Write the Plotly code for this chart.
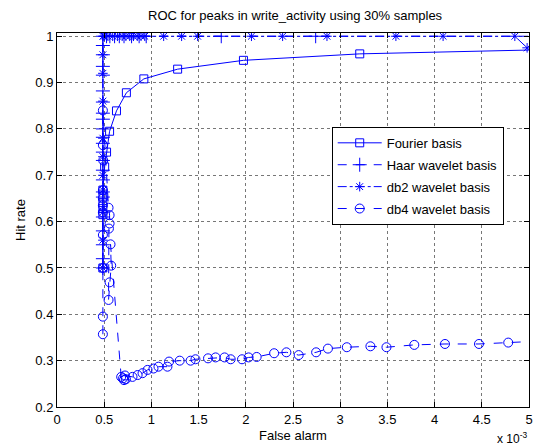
import plotly.graph_objects as go

# False alarm values are in units of 1e-3; hit rate as a fraction.
fourier_fa = [0.486, 0.486, 0.486, 0.486, 0.486, 0.486, 0.505, 0.525, 0.557, 0.63, 0.735, 0.92, 1.278, 1.975, 3.207, 5.6]
fourier_hr = [0.50, 0.615, 0.628, 0.641, 0.655, 0.668, 0.718, 0.75, 0.795, 0.839, 0.878, 0.908, 0.929, 0.948, 0.962, 0.973]

haar_fa = [0.486, 0.486, 0.486, 0.486, 0.486, 0.486, 0.486, 0.486, 0.486, 0.486, 0.486, 0.486,
           0.486, 0.486, 0.486, 0.486, 0.486, 0.486, 0.486, 0.486, 0.486, 0.486, 0.486,
           0.525, 0.56, 0.61, 0.66, 0.71, 0.79, 0.87, 0.945, 1.74, 2.74, 5.5]
haar_hr = [0.50, 0.52, 0.55, 0.58, 0.61, 0.653, 0.664, 0.69, 0.711, 0.732, 0.75, 0.769,
           0.782, 0.80, 0.821, 0.834, 0.858, 0.882, 0.916, 0.935, 0.96, 0.98, 1.0,
           1.0, 1.0, 1.0, 1.0, 1.0, 1.0, 1.0, 1.0, 1.0, 1.0, 1.0]

db2_fa = [0.486, 0.486, 0.486, 0.486, 0.486, 0.486, 0.486, 0.486, 0.486, 0.486, 0.486,
          0.50, 0.54, 0.59, 0.64, 0.69, 0.73, 0.77, 0.81, 0.85, 0.89, 0.93, 1.13, 1.32, 1.49,
          2.06, 2.39, 2.86, 3.59, 4.09, 4.85, 4.98]
db2_hr = [0.50, 0.56, 0.62, 0.668, 0.70, 0.74, 0.78, 0.86, 0.92, 0.96, 1.0,
          1.0, 1.0, 1.0, 1.0, 1.0, 1.0, 1.0, 1.0, 1.0, 1.0, 1.0, 1.0, 1.0, 1.0,
          1.0, 1.0, 1.0, 1.0, 1.0, 1.0, 0.975]

db4_fa = [0.486, 0.486, 0.486, 0.486, 0.486, 0.486, 0.486, 0.486, 0.49, 0.486, 0.486,
          0.546, 0.557, 0.557, 0.55, 0.546, 0.557, 0.574, 0.567,
          0.68, 0.70, 0.71, 0.73, 0.72, 0.80, 0.854, 0.906, 0.959, 1.022, 1.075, 1.17, 1.187,
          1.30, 1.415, 1.467, 1.60, 1.68, 1.775, 1.84, 1.96, 2.03, 2.115, 2.30, 2.43, 2.56,
          2.745, 2.87, 3.07, 3.32, 3.49, 3.785, 4.11, 4.47, 4.78, 5.3]
db4_hr = [0.357, 0.395, 0.50, 0.571, 0.62, 0.635, 0.65, 0.668, 0.732, 0.765, 0.84,
          0.63, 0.614, 0.596, 0.585, 0.431, 0.469, 0.505, 0.551,
          0.265, 0.262, 0.258, 0.26, 0.268, 0.265, 0.269, 0.273, 0.28, 0.283, 0.287, 0.287, 0.298,
          0.30, 0.30, 0.303, 0.305, 0.307, 0.307, 0.303, 0.303, 0.307, 0.308, 0.316, 0.318, 0.312,
          0.318, 0.326, 0.329, 0.331, 0.329, 0.334, 0.336, 0.336, 0.339, 0.344]

x_ticks = [0, 0.5, 1, 1.5, 2, 2.5, 3, 3.5, 4, 4.5, 5]
x_labels = ["0", "0.5", "1", "1.5", "2", "2.5", "3", "3.5", "4", "4.5", "5"]
y_ticks = [0.2, 0.3, 0.4, 0.5, 0.6, 0.7, 0.8, 0.9, 1.0]
y_labels = ["0.2", "0.3", "0.4", "0.5", "0.6", "0.7", "0.8", "0.9", "1"]

BLUE = "#0000ff"
FONT = "Liberation Sans, Arial, Helvetica, sans-serif"
FS = 13

fig = go.Figure()
series = [
    ("Fourier basis", fourier_fa, fourier_hr, "solid", "square-open", 8),
    ("Haar wavelet basis", haar_fa, haar_hr, "dash", "cross-thin-open", 10),
    ("db2 wavelet basis", db2_fa, db2_hr, "dashdot", "asterisk-open", 8),
    ("db4 wavelet basis", db4_fa, db4_hr, "dash", "circle-open", 9),
]
for name, xs, ys, dash, sym, size in series:
    fig.add_trace(go.Scatter(
        x=xs, y=ys, name=name, mode="lines+markers", legendgroup=name,
        line=dict(color=BLUE, width=1, dash=dash),
        marker=dict(symbol=sym, size=size, color=BLUE, line=dict(color=BLUE, width=1)),
        cliponaxis=True,
    ))

axis_common = dict(
    showline=True, linecolor="black", linewidth=1, mirror="ticks",
    ticks="inside", ticklen=5, tickcolor="black",
    showgrid=True, gridcolor="#777777", griddash="dot", gridwidth=1,
    zeroline=False, tickfont=dict(family=FONT, size=FS, color="black"),
)

fig.update_layout(
    width=539, height=447,
    margin=dict(l=57, r=6, t=33, b=40),
    paper_bgcolor="white", plot_bgcolor="white",
    font=dict(family=FONT, size=FS, color="black"),
    title=dict(text="ROC for peaks in write_activity using 30% samples",
               x=0.5475, xanchor="center", y=0.966, yanchor="middle",
               font=dict(family=FONT, size=FS, color="black")),
    xaxis=dict(range=[0, 5], tickvals=x_ticks, ticktext=x_labels,
               title=dict(text="False alarm", standoff=5, font=dict(family=FONT, size=FS)),
               **axis_common),
    yaxis=dict(range=[0.2, 1.007], tickvals=y_ticks, ticktext=y_labels,
               title=dict(text="Hit rate", standoff=6, font=dict(family=FONT, size=FS)),
               **axis_common),
    legend=dict(x=0.582, y=0.749, xanchor="left", yanchor="top",
                bgcolor="white", bordercolor="black", borderwidth=1,
                font=dict(family=FONT, size=FS, color="black"),
                tracegroupgap=2, itemwidth=44),
    showlegend=True,
)

fig.add_annotation(text="x 10<sup>-3</sup>", xref="paper", yref="paper",
                   x=1.0, y=-0.082, xanchor="right", yanchor="middle", showarrow=False,
                   font=dict(family=FONT, size=12, color="black"))

fig.write_html("out.html")
